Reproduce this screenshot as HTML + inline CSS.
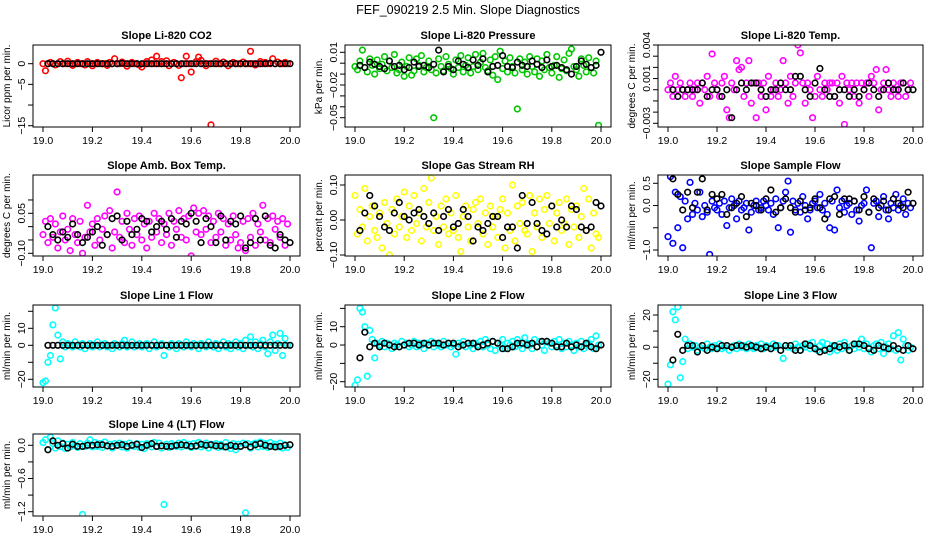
<!DOCTYPE html>
<html><head><meta charset="utf-8"><style>
body{margin:0;background:#fff}
svg{display:block;font-family:"Liberation Sans",sans-serif}
</style></head><body>
<svg id="chart" width="936" height="540" xmlns="http://www.w3.org/2000/svg">
<rect width="936" height="540" fill="#fff"/>
<text x="468" y="14" text-anchor="middle" font-size="12.5">FEF_090219  2.5 Min. Slope Diagnostics</text>
</svg>
<script>
// ---- data ----
const times = [19.00,19.01,19.02,19.03,19.04,19.05,19.06,19.07,19.08,19.09,19.10,19.11,19.12,19.13,19.14,19.15,19.16,19.17,19.18,19.19,19.20,19.21,19.22,19.23,19.24,19.25,19.26,19.27,19.28,19.29,19.30,19.31,19.32,19.33,19.34,19.35,19.36,19.37,19.38,19.39,19.40,19.41,19.42,19.43,19.44,19.45,19.46,19.47,19.48,19.49,19.50,19.51,19.52,19.53,19.54,19.55,19.56,19.57,19.58,19.59,19.60,19.61,19.62,19.63,19.64,19.65,19.66,19.67,19.68,19.69,19.70,19.71,19.72,19.73,19.74,19.75,19.76,19.77,19.78,19.79,19.80,19.81,19.82,19.83,19.84,19.85,19.86,19.87,19.88,19.89,19.90,19.91,19.92,19.93,19.94,19.95,19.96,19.97,19.98,19.99];
const blackTimes = [19.02,19.04,19.06,19.08,19.10,19.12,19.14,19.16,19.18,19.20,19.22,19.24,19.26,19.28,19.30,19.32,19.34,19.36,19.38,19.40,19.42,19.44,19.46,19.48,19.50,19.52,19.54,19.56,19.58,19.60,19.62,19.64,19.66,19.68,19.70,19.72,19.74,19.76,19.78,19.80,19.82,19.84,19.86,19.88,19.90,19.92,19.94,19.96,19.98,20.00];
const co2 = [0,-1.7,0,0.3,0,-0.3,0,0.5,0,0,0.6,0,-0.4,0,0.3,0,0,-0.3,0.5,0,-0.5,0,0.3,0,0,0,-0.4,0.3,0,1.2,0,0,0.4,0,-0.6,0,0.3,0,0,-0.3,-0.8,0,0.5,0,0.9,0,1.8,0,0.5,0,0.7,-0.5,0,0.3,0,-0.4,-3.4,0,1.8,0,-2,0,0.5,1.6,0.8,0,-0.5,0,-14.8,0,0.6,0,0,0.4,0,-0.5,0,0.3,0,0,0,0.4,0,0,3,0,-0.3,0,0.5,0,0.3,0,0,1.2,0,0.4,0,0,0.3,0];
const co2Black = [0,0,0,0,0,0,0,0,0,0,0,0,0,0,0,0.1,0,0,0,0,0,0,0,0,0,0,0,0,0,0,0,0,0,0,0,0,0,0,0,0,0,0,0,0,0,0.1,0,0,0,0];
const pressure = [-.003,-.006,.002,.012,-.004,-.008,.004,-.002,-.01,.003,-.005,-.001,.006,-.007,.002,-.004,.008,-.009,-.006,.001,-.012,-.003,.005,-.011,-.007,.004,-.002,.007,-.008,-.004,.002,-.006,-.05,-.009,.004,-.003,-.007,.006,-.001,-.005,-.01,.003,-.004,.007,-.008,-.002,.005,-.009,-.003,.008,-.006,.001,.009,-.004,-.007,.003,-.011,.006,-.015,.011,-.005,.002,-.008,.005,-.003,-.009,-.042,.004,-.006,.001,-.01,.006,-.003,-.008,.004,-.012,.002,-.006,.008,-.004,-.009,-.002,.006,-.013,-.005,.003,-.007,.009,.013,-.003,-.006,-.012,.004,-.002,-.008,.005,-.004,-.009,.002,-.057];
const pressureBlack = [-.002,-.004,.001,-.001,-.003,-.005,.002,-.003,-.002,-.006,-.004,.001,-.003,-.002,-.004,-.001,.012,-.008,-.003,-.006,.002,-.001,-.004,.003,-.002,.004,-.008,-.003,-.002,.007,-.003,-.004,.001,-.002,-.003,.002,-.001,-.004,.003,-.003,-.002,-.004,-.006,-.01,-.003,.002,-.001,-.004,-.002,.01];
const liTemp = [0,.0006,-.0006,.0012,0,.0006,0,-.0006,0,.0006,-.0006,0,.0006,-.0012,.0006,0,.0012,-.0006,.0032,.0006,0,-.0006,.0006,.0012,-.0018,-.0025,.0006,0,.0026,.0018,.002,-.0006,.0006,.0026,-.0012,.0006,-.0025,.0006,-.0006,.0006,-.0018,.0012,-.0006,0,.0006,-.0006,0,.0026,.0006,-.0012,.0012,-.0006,.0006,.004,.0033,.0006,-.0012,.0006,0,-.0025,-.0006,.0012,0,-.0006,.0006,0,.0006,.0006,-.0006,.0006,-.0012,.0012,-.0031,.0006,0,.0006,-.0006,.0006,-.0012,.0006,0,.0006,-.0006,.0012,.0006,.0018,-.0018,0,.0006,.0018,0,-.0006,.0006,0,-.0006,.0006,.0006,-.0006,0,.0006];
const liTempBlack = [0,-.0006,0,0,0,0,.0006,-.0006,0,0,-.0006,0,-.0025,0,.0006,0,.0006,.0006,0,-.0006,0,0,.0006,0,0,.0012,.0012,0,-.0006,.0006,.0019,0,-.0006,-.0006,0,0,-.0006,0,-.0006,0,.0006,0,-.0006,0,.0006,0,0,.0006,0,0];
const ambBox = [-.03,.02,-.06,.03,-.04,.01,-.08,-.02,.04,-.05,-.01,-.09,.03,-.03,-.06,.02,-.1,-.04,.08,-.02,.01,-.07,.03,-.05,-.01,.04,-.03,.06,-.08,-.02,.13,-.04,.02,-.06,.05,-.01,-.07,.03,-.03,.04,-.05,.01,-.08,.02,-.04,.05,-.02,.03,-.06,.01,-.03,.05,-.07,.02,-.01,.06,-.04,.03,-.05,.04,-.11,.07,-.02,.05,-.03,.06,-.01,.04,-.06,.02,-.04,.05,-.02,.03,-.07,.01,-.05,.04,-.03,-.08,-.06,.02,-.09,.03,-.04,.05,-.07,.01,-.02,.08,-.05,.03,-.06,.04,-.01,.02,-.04,.03,-.07,.01];
const ambBoxBlack = [0,-.03,-.05,-.02,-.04,.01,-.03,-.06,-.04,-.02,0,-.07,-.03,.03,.04,-.05,.02,-.03,-.01,.03,.02,-.02,0,.02,-.01,.03,-.04,.02,.01,.05,.02,-.06,.03,0,-.06,.04,-.05,.02,.01,.04,-.08,-.06,.03,-.05,.04,-.07,-.08,-.03,-.05,-.06];
const gasRH = [.07,-.04,.03,-.02,.09,-.06,.01,.04,-.03,-.05,.02,-.08,.05,-.01,-.1,.03,-.04,.06,-.02,.01,.08,-.05,.04,-.03,.07,-.01,.02,-.06,.09,-.02,.05,.12,-.03,.01,-.07,.04,-.02,.06,-.04,.02,-.03,.07,-.05,-.09,.01,.04,-.02,-.06,.03,.05,-.01,.06,-.04,.02,-.07,.04,-.02,.01,-.05,.03,.06,-.08,.02,-.03,.1,-.06,.04,-.01,.05,-.03,-.04,.07,-.09,.02,-.02,.06,-.05,.03,.07,-.01,.04,-.06,.02,.05,-.03,-.01,.06,-.07,.03,-.02,.04,-.05,.01,.09,-.03,.06,-.08,.02,-.04,-.05];
const gasRHBlack = [-.03,.02,.07,.04,.01,-.02,-.03,.02,.05,.01,0,.02,.03,.01,-.01,.02,-.03,.01,.03,-.02,-.01,.03,.01,-.06,-.02,-.03,-.01,.01,.01,-.05,-.02,-.02,-.08,.07,-.01,.05,-.01,-.03,-.04,.04,-.02,0,-.02,.04,.03,-.02,-.03,-.02,.05,.04];
const sampleFlow = [-.7,.65,-.85,.3,-.5,.2,-.95,.1,-.3,.52,-.2,.05,-.1,.3,-.25,0,-.15,-1.1,.1,-.05,-.1,.05,-.2,.1,-.45,-.05,.15,0,-.3,.1,-.1,-.05,.05,-.55,-.15,0,.1,-.1,-.05,.1,0,-.1,.05,-.2,.15,-.5,-.05,.1,.3,.55,-.6,.1,-.1,.05,-.15,.2,0,-.3,-.1,.05,.1,-.05,.25,-.1,.05,-.2,-.5,.1,-.55,.35,-.05,.1,-.15,0,.05,-.2,.1,-.1,-.35,0,.05,.35,-.15,-.95,.05,.1,-.25,0,.2,-.1,-.3,.05,-.05,.25,-.1,0,.15,-.2,.05,-.05];
const sampleFlowBlack = [.6,.25,-.1,.3,-.05,.3,.6,-.1,.25,.15,.25,-.2,-.05,.05,.2,-.25,.05,0,-.1,.15,.35,-.15,-.05,.15,-.05,-.15,.1,-.1,-.05,.15,-.05,-.3,.15,.2,-.2,.15,.15,.1,-.1,.2,-.15,.15,-.05,.1,-.1,.15,.05,-.05,.3,.05];
const line1 = [-22,-21,-10,-6,12,22,6,-8,2,-1,1,0,-1,2,0,-1,1,-2,0,1,-1,0,2,-1,0,1,-1,0,-2,1,0,-1,1,3,-1,0,2,-1,0,1,-1,0,1,-2,0,2,-1,0,1,-6,0,-1,1,0,-2,1,0,-1,2,0,-1,1,0,-2,1,0,-1,2,0,-1,1,-2,0,2,-1,1,-2,0,2,-1,1,-2,3,0,5,-1,2,-2,1,3,-1,-5,2,6,-3,1,7,-6,4,0];
const line1Black = [0,0,0,0,0,0,0,0,0,0,0,0,0,0,0,0,0,0,0,0,0,0,0,0,0,0,0,0,0,0,0,0,0,0,0,0,0,0,0,0,0,0,0,0,0,0,0,0,0,0];
const line2 = [-22,-19,20,18,10,-17,8,3,-7,1,0,2,-1,1,0,-2,1,0,-1,2,0,1,-1,0,2,-1,1,0,-2,1,0,2,-1,1,0,-1,2,0,1,-1,0,-5,1,0,2,-1,1,0,-2,1,0,2,-1,3,0,-2,2,-3,1,0,3,-2,1,0,2,-1,3,0,-2,4,1,0,-2,3,-1,2,0,-3,2,1,-1,2,0,3,-2,1,-1,2,0,-3,1,-1,2,-2,0,1,3,-2,5,0];
const line2Black = [-7,7,-1,1,-1,1,0,-1,-1,0,1,1,0,1,0,1,1,0,1,1,-1,0,1,1,-1,0,1,2,1,-2,-2,-1,1,1,0,1,-1,2,2,1,-1,-1,1,-1,0,-1,1,-1,-2,0];
const line3 = [-23,-11,22,17,25,-19,-9,5,-1,2,0,1,-2,0,1,-1,2,0,-1,1,0,2,-1,0,1,-2,0,1,-1,2,0,1,-1,2,0,-1,1,0,2,-1,1,0,-1,2,0,1,-2,-7,1,0,1,-1,2,0,-2,1,0,2,-1,3,0,-2,1,3,-1,2,-3,1,0,-2,2,-1,3,0,-2,1,-1,2,0,5,-1,2,0,-3,1,2,-1,3,-4,0,2,-1,7,-2,9,-8,5,1,-2,0];
const line3Black = [-8,8,-2,1,1,-3,1,-2,0,-1,1,1,0,1,1,0,1,0,-1,0,-1,1,-2,1,1,-2,-2,2,1,-1,-3,-2,-1,1,0,1,-2,2,2,1,-1,-2,1,0,-1,1,-1,-2,1,-1];
const line4 = [.05,.1,-.08,.15,.03,-.05,.08,-.02,.04,-.06,.02,-.03,.05,0,-.04,.03,-1.25,-.02,.04,.1,-.03,.05,-.02,.03,-.04,.06,-.01,.02,-.05,.03,0,.04,-.03,.02,-.05,.04,0,-.02,.03,-.04,.02,-.06,.03,.01,-.03,.05,-.02,.04,-.05,-1.07,.02,-.04,.03,0,-.02,.04,-.03,.05,-.01,.02,-.04,.03,-.02,.05,-.03,0,.04,-.05,.02,-.01,.03,-.04,.02,-.03,.05,-.01,-.06,.03,-.08,.02,-.02,.04,-1.22,.03,-.05,.02,.04,-.03,.06,-.02,.03,-.04,.05,-.01,.02,-.03,.04,-.05,.01,-.04];
const line4Black = [-.08,.08,0,.03,-.05,.02,-.02,-.02,0,0,.01,.01,-.01,-.02,0,.01,-.02,0,.02,-.04,0,.03,-.02,-.01,-.02,-.02,0,.01,0,-.02,-.01,.02,0,.01,-.01,-.01,-.03,0,-.02,-.02,.01,-.03,.01,.03,0,-.02,-.03,-.02,0,.01];
// y tick values per panel
const tkCO2 = [0,-5,-10,-15], lbCO2 = ["0","−5","","−15"];
const tkP = [0.01,0,-0.01,-0.02,-0.03,-0.04,-0.05], lbP = ["0.01","","","−0.02","","","−0.05"];
const tkT = [0.004,0.003,0.002,0.001,0,-0.001,-0.002,-0.003], lbT = ["0.004","","","0.001","","","","−0.003"];
const tkA = [0.10,0.05,0,-0.05,-0.10], lbA = ["","0.05","","","−0.10"];
const tkR = [0.10,0,-0.10], lbR = ["0.10","0.00","−0.10"];
const tkS = [0.5,0,-0.5,-1.0], lbS = ["0.5","0.0","","−1.0"];
const tkL1 = [20,10,0,-10,-20], lbL1 = ["","10","0","","−20"];
const tkL2 = [20,10,0,-10,-20], lbL2 = ["","10","0","","−20"];
const tkL3 = [20,10,0,-10,-20], lbL3 = ["20","","0","","−20"];
const tkL4 = [0,-0.3,-0.6,-0.9,-1.2], lbL4 = ["0.0","","−0.6","","−1.2"];
const xTicks = [19.0,19.2,19.4,19.6,19.8,20.0];
const xLabels = ["19.0","19.2","19.4","19.6","19.8","20.0"];

const NS="http://www.w3.org/2000/svg";
const svg=document.getElementById('chart');
function mk(tag,attrs,parent){const e=document.createElementNS(NS,tag);for(const k in attrs)e.setAttribute(k,attrs[k]);(parent||svg).appendChild(e);return e;}

const panels=[
 {t:"Slope Li-820 CO2",yl:"Licor ppm per min.",c:"#ff0000",d:co2,b:co2Black,tk:tkCO2,lb:lbCO2,L:33,R:300,T:45,B:127,v1:0,p1:63.7,v2:-15,p2:125.7,n:"co2"},
 {t:"Slope Li-820 Pressure",yl:"kPa per min.",c:"#00c800",d:pressure,b:pressureBlack,tk:tkP,lb:lbP,L:345,R:611,T:45,B:127,v1:0.01,p1:52.3,v2:-0.05,p2:117.7,n:"pressure"},
 {t:"Slope Li-820 Temp.",yl:"degrees C per min.",c:"#ff00ff",d:liTemp,b:liTempBlack,tk:tkT,lb:lbT,L:658,R:923,T:45,B:127,v1:0.004,p1:45,v2:-0.003,p2:123.3,n:"li-temp"},
 {t:"Slope Amb. Box Temp.",yl:"degrees C per min.",c:"#ff00ff",d:ambBox,b:ambBoxBlack,tk:tkA,lb:lbA,L:33,R:300,T:175,B:256,v1:0.05,p1:213.3,v2:-0.10,p2:253.3,n:"amb-box-temp"},
 {t:"Slope Gas Stream RH",yl:"percent per min.",c:"#ffff00",d:gasRH,b:gasRHBlack,tk:tkR,lb:lbR,L:345,R:611,T:175,B:256,v1:0.10,p1:185,v2:-0.10,p2:255,n:"gas-rh"},
 {t:"Slope Sample Flow",yl:"ml/min per min.",c:"#0000ff",d:sampleFlow,b:sampleFlowBlack,tk:tkS,lb:lbS,L:658,R:923,T:175,B:256,v1:0.5,p1:183.3,v2:-1.0,p2:250,n:"sample-flow"},
 {t:"Slope Line 1 Flow",yl:"ml/min per min.",c:"#00ffff",d:line1,b:line1Black,tk:tkL1,lb:lbL1,L:33,R:300,T:305,B:387,v1:10,p1:328.3,v2:-20,p2:379.3,n:"line1-flow"},
 {t:"Slope Line 2 Flow",yl:"ml/min per min.",c:"#00ffff",d:line2,b:line2Black,tk:tkL2,lb:lbL2,L:345,R:611,T:305,B:387,v1:10,p1:326.7,v2:-20,p2:381.7,n:"line2-flow"},
 {t:"Slope Line 3 Flow",yl:"ml/min per min.",c:"#00ffff",d:line3,b:line3Black,tk:tkL3,lb:lbL3,L:658,R:923,T:305,B:387,v1:20,p1:315,v2:-20,p2:379.3,n:"line3-flow"},
 {t:"Slope Line 4 (LT) Flow",yl:"ml/min per min.",c:"#00ffff",d:line4,b:line4Black,tk:tkL4,lb:lbL4,L:33,R:300,T:434,B:516,v1:0,p1:445.3,v2:-1.2,p2:511.7,n:"line4-flow"}
];

panels.forEach(p=>{
  const g=mk('g',{});
  
  
  const xs=v=>p.L+10+(v-19)*(p.R-p.L-20);
  const ys=v=>p.p1+(v-p.v1)*(p.p2-p.p1)/(p.v2-p.v1);
  const clip='c'+p.n;
  const cp=mk('clipPath',{id:clip},g);mk('rect',{x:p.L,y:p.T,width:p.R-p.L,height:p.B-p.T},cp);
  const pts=mk('g',{'clip-path':'url(#'+clip+')'},g);
  p.d.forEach((v,i)=>{const c=mk('circle',{cx:xs(times[i]),cy:ys(v),r:2.8,fill:'none',stroke:p.c,'stroke-width':1.6},pts);
    
    });
  p.b.forEach((v,i)=>{const c=mk('circle',{cx:xs(blackTimes[i]),cy:ys(v),r:2.8,fill:'none',stroke:'#000','stroke-width':1.6},pts);
    
    });
  const box=mk('rect',{x:p.L,y:p.T,width:p.R-p.L,height:p.B-p.T,fill:'none',stroke:'#000','stroke-width':1},g);
  
  
  const tt=mk('text',{x:(p.L+p.R)/2,y:p.T-6,'text-anchor':'middle','font-size':11,'font-weight':'bold'},g);tt.textContent=p.t;
  
  
  mk('line',{x1:xs(19),x2:xs(20),y1:p.B,y2:p.B,stroke:'#000'},g);
  xTicks.forEach((v,i)=>{mk('line',{x1:xs(v),x2:xs(v),y1:p.B,y2:p.B+5,stroke:'#000'},g);
    const t=mk('text',{x:xs(v),y:p.B+17,'text-anchor':'middle','font-size':10.5},g);t.textContent=xLabels[i];
    
    });
  const yTop=ys(p.tk[0]), yBot=ys(p.tk[p.tk.length-1]);
  mk('line',{x1:p.L,x2:p.L,y1:yTop,y2:yBot,stroke:'#000'},g);
  p.tk.forEach((v,i)=>{const y=ys(v);mk('line',{x1:p.L-5,x2:p.L,y1:y,y2:y,stroke:'#000'},g);
    if(p.lb[i]){const t=mk('text',{x:0,y:0,'text-anchor':'middle','font-size':10.5,transform:`translate(${p.L-8},${y}) rotate(-90)`},g);t.textContent=p.lb[i];
    
    }});
  const yl=mk('text',{x:0,y:0,'text-anchor':'middle','font-size':10,transform:`translate(${p.L-23},${(p.T+p.B)/2}) rotate(-90)`},g);yl.textContent=p.yl;
  
  
});
</script>
</body></html>
